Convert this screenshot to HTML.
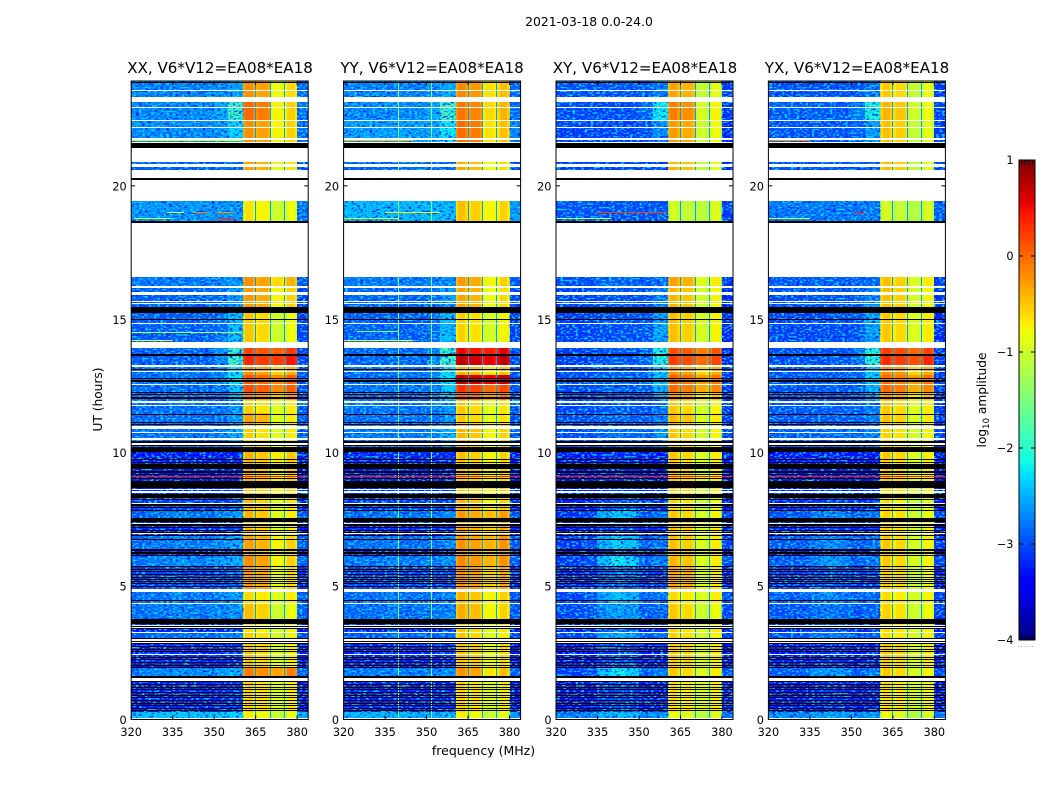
<!DOCTYPE html>
<html lang="en">
<head>
<meta charset="utf-8">
<title>Dynamic spectra 2021-03-18</title>
<style>
html,body{margin:0;padding:0;background:#fff;width:1050px;height:800px;overflow:hidden}
svg{display:block}
text{font-family:"DejaVu Sans","Liberation Sans",sans-serif;fill:#000}
</style>
</head>
<body>
<svg id="fig" width="1050" height="800" viewBox="0 0 1050 800" xmlns="http://www.w3.org/2000/svg">
<defs>
<filter id="speckleDark" x="0" y="0" width="100%" height="100%" color-interpolation-filters="sRGB">
<feTurbulence type="fractalNoise" baseFrequency="0.33 0.55" numOctaves="1" seed="4"/>
<feColorMatrix type="matrix" values="0 0 0 0 0  0 0 0 0 0.15  0 0 0 0 1  5 0 0 0 -2.5"/>
</filter>
<filter id="speckleLight" x="0" y="0" width="100%" height="100%" color-interpolation-filters="sRGB">
<feTurbulence type="fractalNoise" baseFrequency="0.33 0.55" numOctaves="1" seed="11"/>
<feColorMatrix type="matrix" values="0 0 0 0 0  0 0 0 0 0.85  0 0 0 0 1  5 0 0 0 -2.5"/>
</filter>
</defs>
<text x="589" y="26" font-size="12.4" text-anchor="middle">2021-03-18 0.0-24.0</text>
<text x="483.5" y="755" font-size="12.5" text-anchor="middle">frequency (MHz)</text>
<text transform="translate(102,399.5) rotate(-90)" font-size="12.2" text-anchor="middle">UT (hours)</text>
<text transform="translate(986,400) rotate(-90)" font-size="12.2" text-anchor="middle">log<tspan font-size="8.5" dy="3">10</tspan><tspan dy="-3"> amplitude</tspan></text>
</svg>
<script>
const panelTitles = ["XX, V6*V12=EA08*EA18","YY, V6*V12=EA08*EA18","XY, V6*V12=EA08*EA18","YX, V6*V12=EA08*EA18"];
const xTicks = [320,335,350,365,380];
const yTicks = [0,5,10,15,20];
const cbarTicks = [1,0,-1,-2,-3,-4];
const freqEdges = [320,325,330,335,340,345,350,355,360.5,361.3,363.9,364.8,365.2,366,369.3,370.1,370.5,371.3,374.4,375.2,375.6,376.4,379.2,380,384];
const columnRole = ["L","L","L","L","L","L","L","L","A","A","A","G","A","A","A","G","B","B","B","G","B","B","B","R"];
const columnOffset = [0,0,0,0,0,0,0,0,-0.12,0.05,-0.1,0,-0.15,-0.05,-0.15,0,-0.15,-0.05,-0.15,0,-0.05,0.15,0,-0.15];
const gapLevel = -2.6;
const segTopHours = [23.93,23.14,22.43,21.42,19.43,18.61,16.17,15.24,14.04,13.68,13.29,12.91,12.54,12.28,11.97,11.49,11.04,10.03,8.53,7.85,7.55,6.92,6.39,6.17,5.75,4.78,4.33,3.73,3.28,2.98,1.93,1.63,0.28,0];
const shoulder = [0.2,0.9,0.4,0,0,0.1,0.3,0.5,1.1,1.1,0.6,0.6,0.5,0.5,0.2,0.2,0.3,0,0,0,0,0,0,0,0,0,0,0,0,0,0,0,0];
const humpScale = [0,0,0,0,0,0.3,0.3,0.3,0.3,0.3,0.3,0.3,0.3,0.3,0.3,0.3,0.5,0.5,0.8,2.2,0.8,2.2,0.8,2.5,1,1.6,1.2,1.2,1.5,1,2.5,1,1];
const lowXX = [-2.75,-2.7,-2.7,-2.95,-2.65,-2.8,-2.95,-2.95,-2.95,-2.95,-2.85,-2.85,-2.9,-2.9,-2.85,-2.85,-2.85,-3.35,-3.15,-2.85,-3.3,-2.8,-3.3,-2.75,-3.1,-2.8,-2.8,-3.3,-2.9,-3.3,-2.75,-3.3,-2.4];
const lowYY = [-2.75,-2.7,-2.6,-2.9,-2.45,-2.8,-2.9,-2.95,-2.9,-2.9,-2.85,-2.85,-2.85,-2.85,-2.85,-2.85,-2.8,-3.3,-3.15,-2.85,-3.3,-2.85,-3.3,-2.8,-3.1,-2.85,-2.85,-3.3,-2.95,-3.3,-2.8,-3.3,-2.5];
const lowXY = [-3,-3.05,-3.1,-3.1,-3,-3,-3.1,-3.1,-3.1,-3.1,-3,-3,-3.05,-3.05,-3.05,-3,-3,-3.4,-3.25,-3,-3.3,-2.95,-3.3,-2.9,-3.15,-2.9,-2.95,-3.25,-2.95,-3.35,-2.9,-3.35,-2.7];
const lowYX = [-3,-2.95,-3,-3,-2.8,-3,-3.05,-3.1,-3.05,-3.05,-3,-3,-3,-3,-3,-3,-2.95,-3.4,-3.25,-3,-3.3,-3,-3.3,-2.95,-3.15,-2.95,-3,-3.25,-3,-3.35,-2.95,-3.35,-2.7];
const highAXX = [-0.25,-0.05,-0.25,-0.35,-0.7,-0.25,-0.3,-0.55,0.15,0.3,-0.25,0.05,0.1,-0.2,-0.6,-0.35,-0.6,-0.45,-0.5,-0.45,-0.5,-0.35,-0.5,-0.25,-0.3,-0.65,-0.5,-0.7,-0.6,-0.55,-0.15,-0.6,-0.75];
const highBXX = [-0.75,-0.7,-0.7,-0.8,-0.95,-0.55,-0.7,-0.95,0.1,0.3,-0.5,-0.1,-0.1,-0.4,-0.85,-0.85,-0.85,-0.65,-0.8,-0.85,-0.85,-0.7,-0.8,-0.7,-0.75,-0.85,-0.95,-0.9,-0.9,-0.85,-0.25,-0.85,-1];
const highAYY = [-0.2,-0.1,-0.05,-0.4,-0.5,-0.3,-0.35,-0.6,0.5,0.7,-0.4,0.7,0.25,0,-0.55,-0.55,-0.45,-0.5,-0.45,-0.3,-0.35,-0.25,-0.35,-0.2,-0.25,-0.45,-0.4,-0.55,-0.55,-0.5,-0.25,-0.6,-0.75];
const highBYY = [-0.6,-0.55,-0.6,-0.75,-0.7,-0.7,-0.75,-0.9,0.45,0.6,-0.6,0.6,0.05,-0.2,-0.8,-0.8,-0.7,-0.7,-0.7,-0.4,-0.5,-0.35,-0.5,-0.35,-0.5,-0.7,-0.7,-0.8,-0.85,-0.75,-0.6,-0.85,-1];
const highAXY = [-0.35,-0.15,-0.3,-0.45,-1,-0.35,-0.45,-0.5,0.1,0.2,-0.25,0,-0.05,-0.3,-0.55,-0.45,-0.55,-0.55,-0.6,-0.55,-0.5,-0.5,-0.5,-0.45,-0.35,-0.65,-0.55,-0.6,-0.6,-0.55,-0.55,-0.65,-0.85];
const highBXY = [-1,-0.9,-0.95,-1,-1.05,-0.85,-0.9,-0.9,-0.05,0.05,-0.5,-0.2,-0.3,-0.6,-0.9,-0.85,-0.9,-0.85,-0.95,-0.9,-0.85,-0.85,-0.85,-0.85,-0.85,-0.85,-0.95,-0.85,-0.9,-0.85,-0.85,-0.85,-1.05];
const highAYX = [-0.55,-0.45,-0.5,-0.5,-1,-0.5,-0.5,-0.55,0.2,0.3,-0.2,-0.05,-0.05,-0.3,-0.55,-0.5,-0.6,-0.55,-0.65,-0.6,-0.6,-0.55,-0.6,-0.55,-0.55,-0.65,-0.6,-0.65,-0.65,-0.55,-0.55,-0.65,-0.85];
const highBYX = [-1,-0.95,-1,-1,-1.1,-0.85,-0.9,-0.85,0.05,0.2,-0.5,-0.2,-0.3,-0.6,-0.85,-0.85,-0.9,-0.85,-1,-0.95,-0.9,-0.9,-0.9,-0.9,-0.95,-0.9,-0.95,-0.9,-0.9,-0.85,-0.9,-0.9,-1.1];
const lowShapeXX = [-0.05,0,0,0.05,0,0,0.05,0.1];
const lowShapeYY = [0,0,0,0.05,0,0,0,0.05];
const lowShapeXY = [-0.1,-0.1,-0.05,0.2,0.3,0.25,0,0.05];
const lowShapeYX = [0,0,0,0.1,0.15,0.1,0,0.05];
const rfiPanel = [1,1];
const rfiFreq = [339.7,351.6];
const rfiLevel = [-1.5,-1.5];
const streakPanel = [0,0,0,0,0,0,0,0,0,1,1,1,1,1,1,2,2,2,3,3,3,3];
const streakHour = [21.7,19.02,19.02,19.02,18.78,18.78,14.52,14.19,9.11,21.7,19.02,18.78,14.56,14.19,9.11,19.02,18.78,9.11,21.7,18.78,18.95,9.11];
const streakStart = [320,333,342.5,351,321,351,320,320,320,320,335,320,325,320,320,335,320,320,320,320,351,320];
const streakEnd = [360,339,348,357,334,357,360,335,384,345,355,340,340,345,384,360,340,384,335,335,355,384];
const streakLevel = [-0.9,-1,-0.2,-0.2,-1,0.4,-1.2,-0.9,0.4,-0.5,-0.8,-1,-1.5,-0.8,0.4,0.2,-1,0.4,-0.2,-1,0.3,0.4];
const whiteStart = [23.56,23.14,22.92,22.43,22.17,21.72,21.61,20.9,20.71,20.3,19.43,16.59,16.17,15.91,15.65,15.57,14.82,14.09,13.93,13.21,13.01,12.52,11.86,11.75,10.89,10.72,10.48,10.29,8.6,8.49,8.08,7.35,6.95,4.78,4.33,3.52,3.43,3.24,2.96,2.87,2.42,1.46,0];
const whiteEnd = [23.59,23.34,22.96,22.47,22.21,21.8,21.65,21.42,20.82,20.6,20.22,18.61,16.23,16.02,15.69,15.61,14.86,14.13,14.07,13.29,13.06,12.56,11.94,11.78,11.01,10.76,10.55,10.36,8.64,8.57,8.11,7.38,6.99,4.89,4.38,3.56,3.47,3.28,3.02,2.9,2.46,1.56,0.05];
const blackStart = [23.85,21.42,20.22,18.61,15.25,14.97,13.64,13.08,12.76,12.65,12.24,12.16,12.01,11.42,11.11,11.02,10.36,10.25,10.03,9.73,9.6,9.39,9.22,9.16,9,8.88,8.68,8.43,8.34,8.3,8.21,8.02,7.95,7.81,7.41,7.25,7.18,7.08,7,6.9,6.73,6.31,6.2,6.16,5.72,5.62,5.52,5.42,5.33,5.23,5.15,5.07,4.98,4.45,3.63,3.57,3.49,3.4,3.02,2.92,2.83,2.73,2.63,2.52,2.32,2.22,2.12,2.02,1.94,1.57,1.39,1.29,1.19,1.09,0.99,0.89,0.79,0.69,0.59,0.49,0.39,0.32];
const blackEnd = [23.88,21.61,20.3,18.68,15.47,15.01,13.68,13.12,12.8,12.72,12.28,12.2,12.09,11.45,11.15,11.06,10.42,10.29,10.21,9.76,9.65,9.56,9.33,9.2,9.05,8.94,8.85,8.47,8.4,8.34,8.25,8.08,7.98,7.85,7.54,7.34,7.2,7.1,7.03,6.93,6.76,6.38,6.28,6.18,5.75,5.65,5.55,5.45,5.35,5.25,5.18,5.1,5.01,4.48,3.75,3.6,3.52,3.43,3.04,2.94,2.86,2.76,2.66,2.55,2.35,2.26,2.16,2.05,1.98,1.64,1.44,1.33,1.23,1.13,1.03,0.93,0.83,0.73,0.63,0.53,0.43,0.36];

const lowByPanel = [lowXX,lowYY,lowXY,lowYX];
const highAByPanel = [highAXX,highAYY,highAXY,highAYX];
const highBByPanel = [highBXX,highBYY,highBXY,highBYX];
const shapeByPanel = [lowShapeXX,lowShapeYY,lowShapeXY,lowShapeYX];
const panelLeft = [131.2,343.6,556,768.4];
const panelCenter = [220,432,645,857];
const PW = 177, PT = 81, PH = 638.5;
const fMin = 320, fMax = 384, hMin = 0, hMax = 23.93;
const vMin = -4, vMax = 1;
const fig = document.getElementById('fig');
const NS = 'http://www.w3.org/2000/svg';

function mk(tag, attrs, parent){
  const e = document.createElementNS(NS, tag);
  for (const k in attrs) e.setAttribute(k, attrs[k]);
  (parent || fig).appendChild(e);
  return e;
}
function xScale(p, f){ return panelLeft[p] + (f - fMin) / (fMax - fMin) * PW; }
function yScale(h){ return PT + (hMax - h) / (hMax - hMin) * PH; }
function ramp(t, pts){
  for (let i = 1; i < pts.length; i++){
    if (t <= pts[i][0]){
      const a = pts[i-1], b = pts[i];
      return a[1] + (b[1] - a[1]) * (t - a[0]) / (b[0] - a[0]);
    }
  }
  return pts[pts.length-1][1];
}
function jet(v){
  const t = Math.max(0, Math.min(1, (v - vMin) / (vMax - vMin)));
  const r = ramp(t, [[0,0],[0.35,0],[0.66,1],[0.89,1],[1,0.5]]);
  const g = ramp(t, [[0,0],[0.125,0],[0.375,1],[0.64,1],[0.91,0],[1,0]]);
  const b = ramp(t, [[0,0.5],[0.11,1],[0.34,1],[0.65,0],[1,0]]);
  return 'rgb(' + Math.round(r*255) + ',' + Math.round(g*255) + ',' + Math.round(b*255) + ')';
}
function cellLevel(p, s, c){
  const role = columnRole[c];
  if (role === 'G') return gapLevel;
  if (role === 'A') return highAByPanel[p][s] + columnOffset[c];
  if (role === 'B') return highBByPanel[p][s] + columnOffset[c];
  if (role === 'R') return lowByPanel[p][s] + columnOffset[c];
  let boost = 0;
  if (c === 7) boost = shoulder[s];
  if (c === 6) boost = shoulder[s] * 0.2;
  return lowByPanel[p][s] + shapeByPanel[p][c] * humpScale[s] + boost;
}
function band(p, h0, h1, f0, f1, fill, parent){
  const x0 = Math.round(xScale(p, f0));
  const x1 = Math.round(xScale(p, f1));
  const y0 = Math.round(yScale(h1));
  const y1 = Math.round(yScale(h0));
  return mk('rect', {x:x0, y:y0, width:Math.max(1,x1-x0), height:Math.max(1,y1-y0), fill:fill, 'shape-rendering':'crispEdges'}, parent);
}

panelTitles.forEach(function(title, p){
  const g = mk('g', {});
  
  

  for (let s = 0; s < segTopHours.length - 1; s++){
    for (let c = 0; c < columnRole.length; c++){
      const cell = band(p, segTopHours[s+1], segTopHours[s], freqEdges[c], freqEdges[c+1], jet(cellLevel(p, s, c)), g);
      
      
    }
  }

  [[320,360.5],[380,384]].forEach(function(range){
    ['speckleDark','speckleLight'].forEach(function(fid){
      const sp = mk('rect', {x:xScale(p,range[0]), y:PT, width:xScale(p,range[1])-xScale(p,range[0]), height:PH, filter:'url(#'+fid+')'}, g);
      
      
    });
  });

  rfiFreq.forEach(function(f, i){
    if (rfiPanel[i] !== p) return;
    const line = band(p, hMin, hMax, f, f + 0.36, jet(rfiLevel[i]), g);
    
    
  });

  streakHour.forEach(function(h, i){
    if (streakPanel[i] !== p) return;
    const st = band(p, h - 0.015, h + 0.015, streakStart[i], streakEnd[i], jet(streakLevel[i]), g);
    
    
  });

  whiteStart.forEach(function(h, i){
    const w = band(p, h, whiteEnd[i], fMin, fMax, '#fff', g);
    
    
  });
  blackStart.forEach(function(h, i){
    const b = band(p, h, blackEnd[i], fMin, fMax, '#000', g);
    
    
  });

  const frame = mk('rect', {x:panelLeft[p], y:PT, width:PW, height:PH, fill:'none', stroke:'#000', 'stroke-width':1}, g);
  
  

  xTicks.forEach(function(t){
    const x = xScale(p, t);
    const top = mk('line', {x1:x, x2:x, y1:PT, y2:PT+4, stroke:'#000', 'stroke-width':1}, g);
    
    
    const bot = mk('line', {x1:x, x2:x, y1:PT+PH, y2:PT+PH-4, stroke:'#000', 'stroke-width':1}, g);
    
    
    const lab = mk('text', {x:x, y:736, 'font-size':11.3, 'text-anchor':'middle'}, g);
    lab.textContent = String(t);
    
    
  });
  yTicks.forEach(function(t){
    const y = yScale(t);
    const l = mk('line', {x1:panelLeft[p], x2:panelLeft[p]+4, y1:y, y2:y, stroke:'#000', 'stroke-width':1}, g);
    
    
    const r = mk('line', {x1:panelLeft[p]+PW, x2:panelLeft[p]+PW-4, y1:y, y2:y, stroke:'#000', 'stroke-width':1}, g);
    
    
    const lab = mk('text', {x:panelLeft[p]-4.5, y:y+4.5, 'font-size':11.3, 'text-anchor':'end'}, g);
    lab.textContent = String(t);
    
    
  });
  const tt = mk('text', {x:panelCenter[p], y:73, 'font-size':15.1, 'text-anchor':'middle'}, g);
  tt.textContent = title;
  
  
});

const cbX = 1019, cbW = 16, cbTop = 160, cbH = 480;
function cbY(v){ return cbTop + (vMax - v) / (vMax - vMin) * cbH; }
const cb = mk('g', {});


for (let i = 0; i < 120; i++){
  const v1 = vMax - i * (vMax - vMin) / 120;
  const v0 = vMax - (i + 1) * (vMax - vMin) / 120;
  const y0 = Math.round(cbY(v1));
  const y1 = Math.round(cbY(v0));
  const step = mk('rect', {x:cbX, y:y0, width:cbW, height:y1-y0, fill:jet((v0+v1)/2), 'shape-rendering':'crispEdges'}, cb);
  
  
}
const cbFrame = mk('rect', {x:cbX, y:cbTop, width:cbW, height:cbH, fill:'none', stroke:'#000', 'stroke-width':1}, cb);


cbarTicks.forEach(function(t){
  const y = cbY(t);
  const a = mk('line', {x1:cbX, x2:cbX+4, y1:y, y2:y, stroke:'#000'}, cb);
  
  
  const b = mk('line', {x1:cbX+cbW, x2:cbX+cbW-4, y1:y, y2:y, stroke:'#000'}, cb);
  
  
  const lab = mk('text', {x:1013.5, y:y+4, 'font-size':11.3, 'text-anchor':'end'}, cb);
  lab.textContent = String(t).replace('-', '\u2212');
  
  
});
[cbTop, cbTop + cbH - 5].forEach(function(y0){
  for (let i = 1; i < 6; i++){
    const m = mk('line', {x1:cbX+i*cbW/6, x2:cbX+i*cbW/6, y1:y0, y2:y0+5, stroke:'#000', 'stroke-width':0.7}, cb);
    
    
  }
});
const dots = mk('text', {x:1026, y:647, 'font-size':7, 'text-anchor':'middle', style:'fill:#777', 'letter-spacing':'0.6'}, cb);
dots.textContent = '......';


</script>
</body>
</html>
